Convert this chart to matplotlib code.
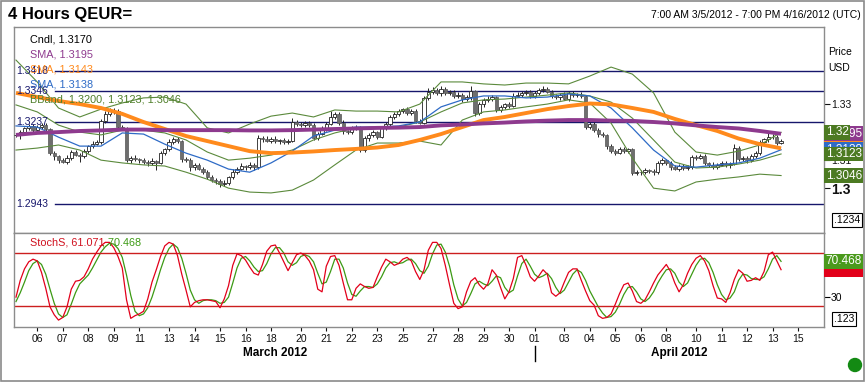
import numpy as np
import matplotlib
matplotlib.use('Agg')
import matplotlib.pyplot as plt
from matplotlib.transforms import blended_transform_factory
from matplotlib.patches import Rectangle, Ellipse

plt.rcParams['font.family'] = ['Liberation Sans', 'DejaVu Sans']

# 4 hour candles, 3/5 07:00 -> 4/13 (closes)
closes = [1.3191, 1.3200, 1.3215, 1.3222, 1.3210, 1.3220, 1.3225, 1.3212, 1.3126, 1.3115,
          1.3100, 1.3095, 1.3110, 1.3130, 1.3120, 1.3115, 1.3135, 1.3150, 1.3160, 1.3165,
          1.3240, 1.3265, 1.3275, 1.3278, 1.3220, 1.3215, 1.3101, 1.3110, 1.3105, 1.3100,
          1.3095, 1.3090, 1.3098, 1.3092, 1.3125, 1.3140, 1.3165, 1.3175, 1.3168, 1.3105,
          1.3100, 1.3075, 1.3085, 1.3070, 1.3060, 1.3040, 1.3030, 1.3025, 1.3015, 1.3020,
          1.3040, 1.3060, 1.3070, 1.3080, 1.3075, 1.3085, 1.3075, 1.3180, 1.3175, 1.3170,
          1.3178, 1.3168, 1.3172, 1.3165, 1.3170, 1.3237, 1.3230, 1.3225, 1.3232, 1.3228,
          1.3180, 1.3195, 1.3215, 1.3230, 1.3255, 1.3265, 1.3235, 1.3205, 1.3200, 1.3215,
          1.3220, 1.3137, 1.3180, 1.3190, 1.3200, 1.3185, 1.3215, 1.3230, 1.3255, 1.3265,
          1.3275, 1.3282, 1.3270, 1.3278, 1.3240, 1.3235, 1.3322, 1.3345, 1.3352, 1.3340,
          1.3355, 1.3340, 1.3345, 1.3330, 1.3335, 1.3318, 1.3325, 1.3348, 1.3270, 1.3300,
          1.3315, 1.3320, 1.3325, 1.3280, 1.3290, 1.3300, 1.3295, 1.3330, 1.3335, 1.3340,
          1.3345, 1.3330, 1.3340, 1.3350, 1.3355, 1.3345, 1.3330, 1.3325, 1.3335, 1.3320,
          1.3340, 1.3332, 1.3335, 1.3330, 1.3220, 1.3230, 1.3210, 1.3195, 1.3190, 1.3150,
          1.3135, 1.3128, 1.3140, 1.3135, 1.3140, 1.3055, 1.3060, 1.3058, 1.3065, 1.3062,
          1.3058, 1.3090, 1.3100, 1.3092, 1.3075, 1.3070, 1.3080, 1.3072, 1.3078, 1.3112,
          1.3110, 1.3115, 1.3090, 1.3085, 1.3078, 1.3085, 1.3090, 1.3083, 1.3088, 1.3145,
          1.3105, 1.3108, 1.3100, 1.3115, 1.3125, 1.3165, 1.3175, 1.3185, 1.3182, 1.3162,
          1.3170]
first_open = 1.3190
# wick lengths in pips
wick_hi = [6, 8, 5, 9, 7, 6, 10, 8, 4, 6,
           5, 7, 9, 6, 8, 5, 7, 6, 9, 8,
           6, 10, 12, 8, 5, 7, 4, 6, 8, 5,
           7, 6, 9, 5, 8, 6, 10, 8, 9, 4,
           6, 8, 5, 7, 6, 5, 8, 6, 7, 9,
           6, 8, 7, 9, 5, 8, 6, 10, 7, 12,
           6, 9, 5, 8, 7, 14, 8, 6, 9, 7,
           5, 8, 7, 6, 20, 9, 6, 8, 5, 7,
           6, 4, 8, 7, 9, 6, 8, 7, 6, 9,
           7, 6, 8, 5, 6, 7, 8, 12, 9, 6,
           10, 7, 8, 6, 9, 7, 8, 18, 5, 8,
           6, 9, 7, 5, 8, 6, 7, 9, 10, 8,
           7, 6, 9, 8, 10, 7, 5, 8, 6, 9,
           7, 8, 6, 9, 5, 8, 6, 7, 5, 6,
           8, 6, 7, 9, 6, 5, 7, 6, 8, 6,
           7, 9, 8, 6, 7, 8, 6, 7, 5, 8,
           6, 9, 7, 5, 8, 6, 7, 8, 6, 14,
           7, 6, 8, 9, 7, 8, 6, 12, 9, 7,
           5]
wick_lo = [8, 14, 6, 7, 9, 5, 8, 6, 7, 12,
           9, 6, 8, 7, 5, 22, 6, 8, 7, 6,
           5, 7, 6, 9, 8, 6, 7, 9, 6, 8,
           7, 10, 8, 26, 6, 7, 5, 8, 6, 9,
           7, 12, 8, 6, 9, 7, 8, 10, 9, 8,
           6, 7, 9, 6, 8, 7, 9, 5, 8, 6,
           7, 6, 9, 8, 6, 5, 8, 7, 6, 9,
           8, 7, 6, 9, 5, 8, 7, 9, 6, 7,
           6, 8, 7, 9, 6, 8, 5, 7, 6, 8,
           7, 6, 9, 8, 7, 5, 6, 8, 7, 6,
           9, 7, 6, 8, 7, 9, 6, 8, 10, 7,
           8, 6, 7, 9, 6, 8, 7, 6, 5, 8,
           7, 9, 6, 8, 7, 6, 8, 7, 9, 6,
           8, 7, 6, 9, 7, 8, 10, 12, 8, 9,
           7, 8, 6, 9, 7, 8, 6, 9, 7, 8,
           10, 6, 8, 7, 9, 6, 8, 7, 6, 8,
           7, 6, 8, 9, 7, 8, 6, 7, 9, 6,
           8, 7, 9, 6, 8, 7, 6, 8, 7, 6,
           5]

# indicator readings, every 5th bar
sma_purple = [1.3191, 1.3198, 1.3201, 1.3205, 1.3207, 1.3210, 1.3210, 1.3208, 1.3208, 1.3208,
              1.3208, 1.3207, 1.3207, 1.3208, 1.3210, 1.3212, 1.3214, 1.3216, 1.3217, 1.3219,
              1.3225, 1.3228, 1.3232, 1.3235, 1.3239, 1.3242, 1.3244, 1.3244, 1.3242, 1.3241,
              1.3237, 1.3232, 1.3225, 1.3219, 1.3214, 1.3205, 1.3195]
sma_orange = [1.3341, 1.3326, 1.3312, 1.3301, 1.3287, 1.3266, 1.3237, 1.3212, 1.3187, 1.3169,
              1.3151, 1.3133, 1.3126, 1.3128, 1.3132, 1.3137, 1.3141, 1.3146, 1.3155, 1.3173,
              1.3194, 1.3219, 1.3244, 1.3255, 1.3269, 1.3283, 1.3294, 1.3303, 1.3300, 1.3287,
              1.3273, 1.3248, 1.3226, 1.3205, 1.3178, 1.3158, 1.3143]
sma_blue = [1.3223, 1.3219, 1.3183, 1.3151, 1.3151, 1.3198, 1.3194, 1.3158, 1.3126, 1.3101,
            1.3069, 1.3058, 1.3091, 1.3133, 1.3187, 1.3208, 1.3219, 1.3219, 1.3223, 1.3237,
            1.3291, 1.3316, 1.3330, 1.3330, 1.3323, 1.3326, 1.3337, 1.3330, 1.3287, 1.3216,
            1.3137, 1.3080, 1.3076, 1.3084, 1.3091, 1.3108, 1.3138]
bb_upper = [1.3458, 1.3380, 1.3287, 1.3255, 1.3283, 1.3305, 1.3323, 1.3326, 1.3301, 1.3216,
            1.3198, 1.3230, 1.3258, 1.3269, 1.3255, 1.3280, 1.3276, 1.3276, 1.3273, 1.3301,
            1.3380, 1.3380, 1.3373, 1.3369, 1.3376, 1.3376, 1.3373, 1.3401, 1.3433, 1.3408,
            1.3341, 1.3201, 1.3130, 1.3119, 1.3133, 1.3155, 1.3200]
bb_mid = [1.3298, 1.3273, 1.3226, 1.3201, 1.3191, 1.3208, 1.3208, 1.3198, 1.3173, 1.3130,
          1.3101, 1.3108, 1.3119, 1.3137, 1.3173, 1.3198, 1.3216, 1.3219, 1.3219, 1.3237,
          1.3273, 1.3305, 1.3316, 1.3319, 1.3326, 1.3333, 1.3341, 1.3330, 1.3308, 1.3251,
          1.3173, 1.3094, 1.3073, 1.3076, 1.3087, 1.3101, 1.3123]
bb_lower = [1.3137, 1.3144, 1.3155, 1.3137, 1.3101, 1.3091, 1.3084, 1.3080, 1.3058, 1.3033,
            1.3001, 1.2987, 1.2984, 1.2994, 1.3030, 1.3084, 1.3137, 1.3162, 1.3162, 1.3169,
            1.3155, 1.3244, 1.3273, 1.3280, 1.3291, 1.3301, 1.3316, 1.3305, 1.3233, 1.3108,
            1.3001, 1.2991, 1.3023, 1.3033, 1.3041, 1.3051, 1.3046]

stoch_k = [30, 49, 62, 70, 73, 71, 58, 40, 19, 10, 4, 7, 19, 39, 48, 49, 53, 62, 73, 81,
           88, 92, 92, 86, 76, 63, 27, 6, 9, 11, 14, 28, 47, 61, 76, 88, 92, 90, 77, 56,
           38, 19, 24, 26, 27, 27, 26, 25, 18, 28, 43, 66, 79, 77, 72, 64, 57, 55, 67, 82,
           88, 89, 80, 70, 60, 69, 78, 80, 77, 71, 61, 39, 36, 65, 76, 77, 66, 46, 27, 27,
           40, 45, 42, 40, 41, 53, 64, 73, 70, 66, 68, 73, 75, 71, 59, 50, 61, 83, 92, 92,
           85, 66, 44, 23, 17, 19, 36, 48, 52, 44, 39, 45, 61, 55, 41, 28, 36, 51, 75, 77,
           66, 53, 48, 54, 61, 56, 35, 31, 35, 47, 58, 62, 62, 49, 37, 26, 21, 9, 6, 7,
           11, 22, 34, 44, 46, 37, 25, 23, 27, 36, 46, 55, 61, 67, 59, 46, 36, 44, 57, 67,
           74, 77, 71, 60, 43, 29, 28, 24, 35, 50, 61, 57, 48, 49, 52, 49, 59, 78, 81, 71,
           61.071]
stoch_d = [25, 35, 47, 60, 68, 71, 67, 56, 39, 23, 11, 7, 10, 22, 35, 45, 50, 55, 63, 72,
           81, 87, 91, 90, 85, 75, 55, 32, 14, 9, 11, 18, 30, 45, 61, 75, 85, 90, 86, 74,
           57, 38, 27, 23, 26, 27, 27, 26, 23, 24, 30, 46, 63, 74, 76, 71, 64, 59, 60, 68,
           79, 86, 86, 80, 70, 66, 69, 76, 78, 76, 70, 57, 45, 47, 59, 73, 73, 63, 46, 33,
           31, 37, 42, 42, 41, 45, 53, 63, 69, 70, 68, 69, 72, 73, 68, 60, 57, 65, 79, 89,
           90, 81, 65, 44, 28, 20, 24, 34, 45, 48, 45, 43, 48, 54, 52, 41, 35, 38, 54, 68,
           73, 65, 56, 52, 54, 57, 51, 41, 34, 38, 47, 56, 61, 58, 49, 37, 28, 19, 12, 7,
           8, 13, 22, 33, 41, 42, 36, 28, 25, 29, 36, 46, 54, 61, 62, 57, 47, 42, 46, 56,
           66, 73, 74, 69, 58, 44, 33, 27, 29, 36, 49, 56, 55, 51, 50, 50, 53, 62, 73, 77,
           70.468]

levels = [1.3418, 1.3346, 1.3237, 1.2943]
day_labels = ['06', '07', '08', '09', '11', '13', '14', '15', '16', '18', '20', '21', '22', '23', '25',
              '27', '28', '29', '30', '01', '03', '04', '05', '06', '08', '10', '11', '12', '13', '15']
day_ticks = [5, 11, 17, 23, 29, 36, 42, 48, 54, 60, 67, 73, 79, 85, 91,
             98, 104, 110, 116, 122, 129, 135, 141, 147, 153, 160, 166, 172, 178, 184]

PURPLE = '#8E3A8E'
ORANGE = '#FF8A1C'
BLUE = '#2E6BC6'
GREEN = '#4F7F2A'
NAVY = '#16166B'

W, H = 867, 382
fig = plt.figure(figsize=(W / 100, H / 100), dpi=100)


def fx(px):
    return px / W


def fy(py):
    return 1 - py / H


ax = fig.add_axes([fx(14), fy(233), fx(824) - fx(14), fy(27) - fy(233)])
ax2 = fig.add_axes([fx(14), fy(327), fx(824) - fx(14), fy(233) - fy(327)], sharex=ax)

# candles
c = np.array(closes)
o = np.r_[first_open, c[:-1]]
hi = np.maximum(o, c) + np.array(wick_hi) * 1e-4
lo = np.minimum(o, c) - np.array(wick_lo) * 1e-4
x = np.arange(len(c))
up = c >= o
ax.vlines(x, lo, hi, color='#222222', lw=0.7, zorder=2)
body = np.maximum(np.abs(c - o), 0.00008)
ax.bar(x[up], body[up], bottom=o[up], width=0.75, color='white', edgecolor='#222222', lw=0.6, zorder=3)
ax.bar(x[~up], body[~up], bottom=c[~up], width=0.75, color='#6e6e6e', edgecolor='#555555', lw=0.5, zorder=3)

xs = np.arange(0, len(c), 5)
for band in (bb_upper, bb_mid, bb_lower):
    ax.plot(xs, band, color='#5B8A3C', lw=0.8, zorder=4)
ax.plot(xs, sma_blue, color=BLUE, lw=0.9, zorder=5)
ax.plot(xs, sma_orange, color=ORANGE, lw=2.8, zorder=6, solid_capstyle='butt')
ax.plot(xs, sma_purple, color=PURPLE, lw=2.8, zorder=7, solid_capstyle='butt')

for lv in levels:
    ax.axhline(lv, xmin=0.0506, xmax=1, color=NAVY, lw=1, zorder=1)
    ax.text(0.003, lv, f'{lv:.4f}', transform=blended_transform_factory(ax.transAxes, ax.transData),
            color=NAVY, fontsize=7.5, va='center', ha='left', zorder=8)

ax.set_xlim(-0.47, 190.1)
ax.set_ylim(1.2841, 1.3576)
ax.tick_params(axis='x', bottom=False, labelbottom=False)
ax.yaxis.tick_right()
ax.set_yticks([1.30, 1.31, 1.33])
ax.set_yticklabels(['1.3', '1.31', '1.33'])
ax.tick_params(axis='y', length=4, width=0.8, pad=1, labelsize=7.5, colors='#111111')
lab = ax.get_yticklabels()[0]
lab.set_fontweight('bold')
lab.set_fontsize(10)

legend_rows = [('Cndl, 1.3170', 'black'), ('SMA, 1.3195', PURPLE), ('SMA, 1.3143', ORANGE),
               ('SMA, 1.3138', BLUE), ('BBand, 1.3200, 1.3123, 1.3046', GREEN)]
for k, (txt, col) in enumerate(legend_rows):
    ax.text(0.02, 0.937 - k * 0.072, txt, transform=ax.transAxes, color=col, fontsize=7.8,
            va='center', zorder=9)

# price boxes on the right
tr = blended_transform_factory(ax.transAxes, ax.transData)
boxes = [(1.3143, '1.3143', ORANGE), (1.3138, '1.3138', BLUE), (1.3123, '1.3123', '#4C7A22'),
         (1.3046, '1.3046', '#4C7A22'), (1.3195, '1.3195', PURPLE), (1.3200, '1.32', '#4C7A22')]
for val, txt, col in boxes:
    ax.text(1.002, val, txt, transform=tr, color='white', fontsize=8.5, va='center', ha='left',
            clip_on=False, zorder=10,
            bbox=dict(boxstyle='square,pad=0.12', fc=col, ec='none'))

# stochastics
ax2.plot(x, stoch_k, color='#E2001A', lw=0.9, zorder=3)
ax2.plot(x, stoch_d, color='#3C9A14', lw=0.9, zorder=2)
ax2.axhline(80, color='#CC1F1F', lw=1)
ax2.axhline(20, color='#CC1F1F', lw=1)
ax2.set_ylim(-3.8, 102.6)
ax2.yaxis.tick_right()
ax2.set_yticks([30])
ax2.set_yticklabels(['30'])
ax2.tick_params(axis='y', length=4, width=0.8, pad=1, labelsize=7.5)
ax2.set_xticks(day_ticks)
ax2.set_xticklabels(day_labels)
ax2.tick_params(axis='x', length=3, width=0.8, pad=2, labelsize=7.5, colors='#111111')

ax2.text(0.02, 0.894, 'StochS, 61.071', transform=ax2.transAxes, color='#D0101E', fontsize=7.8, va='center')
ax2.text(0.109, 0.894, ', 70.468', transform=ax2.transAxes, color='#3C9A14', fontsize=7.8, va='center')
tr2 = blended_transform_factory(ax2.transAxes, ax2.transData)
ax2.text(1.002, 61.071, '61.071', transform=tr2, color='#E2001A', fontsize=8.5, va='center',
         clip_on=False, bbox=dict(boxstyle='square,pad=0.12', fc='#E2001A', ec='none'))
ax2.text(1.002, 70.468, '70.468', transform=tr2, color='white', fontsize=8.5, va='center',
         clip_on=False, bbox=dict(boxstyle='square,pad=0.12', fc='#4A9A1C', ec='none'))

for a in (ax, ax2):
    for s in a.spines.values():
        s.set_color('#8c8c8c')
        s.set_linewidth(1)

# month labels under the day ticks
trm = blended_transform_factory(ax2.transData, fig.transFigure)
ax2.text(61, fy(353), 'March 2012', transform=trm, ha='center', va='center', fontsize=8.5,
         fontweight='bold', clip_on=False)
ax2.text(156, fy(353), 'April 2012', transform=trm, ha='center', va='center', fontsize=8.5,
         fontweight='bold', clip_on=False)
ax2.plot([day_ticks[19]] * 2, [fy(346), fy(361)], transform=trm, color='black', lw=1, clip_on=False)

# header and frame
fig.text(fx(8), fy(14), '4 Hours QEUR=', fontsize=12, fontweight='bold', va='center')
fig.text(fx(861), fy(15), '7:00 AM 3/5/2012 - 7:00 PM 4/16/2012 (UTC)', fontsize=7.5, ha='right', va='center')
fig.text(fx(828), fy(52), 'Price', fontsize=7.5, va='center')
fig.text(fx(828), fy(68), 'USD', fontsize=7.5, va='center')
fig.text(fx(834), fy(220), '.1234', fontsize=7.5, va='center',
         bbox=dict(boxstyle='square,pad=0.15', fc='white', ec='black', lw=0.8))
fig.text(fx(834), fy(319), '.123', fontsize=7.5, va='center',
         bbox=dict(boxstyle='square,pad=0.15', fc='white', ec='black', lw=0.8))
fig.add_artist(Ellipse((fx(855), fy(365)), 13 / W, 13 / H, transform=fig.transFigure, color='#138A13'))
fig.add_artist(Rectangle((0.001, 0.003), 0.996, 0.994, transform=fig.transFigure, fill=False,
                         ec='#8a8a8a', lw=1.2))

fig.savefig('out.png', dpi=100)
